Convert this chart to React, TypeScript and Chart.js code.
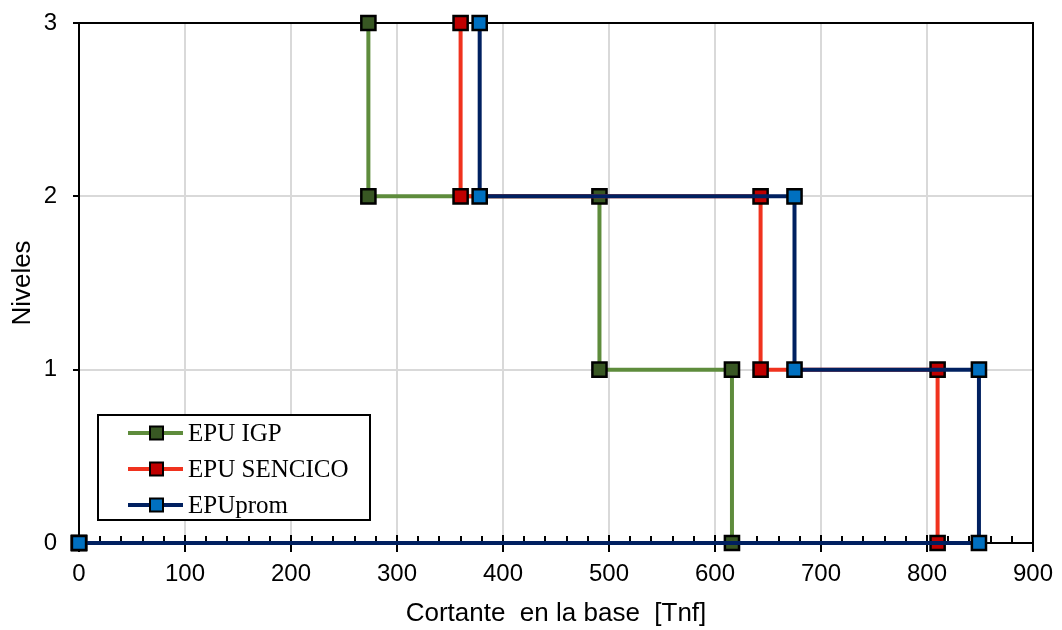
import React, { useEffect, useRef } from "react";
import { Chart, registerables } from "chart.js";

Chart.register(...registerables);

// ---- data ----
const levels = [3, 2, 2, 1, 1, 0, 0];
const igpShear = [273, 273, 491, 491, 616, 616, 0];
const sencicoShear = [360, 360, 643, 643, 810, 810, 0];
const promShear = [378, 378, 675, 675, 849, 849, 0];
const seriesNames = ["EPU IGP", "EPU SENCICO", "EPUprom"];
const xTickValues = [0, 100, 200, 300, 400, 500, 600, 700, 800, 900];
const yTickValues = [0, 1, 2, 3];
const xTitle = "Cortante  en la base  [Tnf]";
const yTitle = "Niveles";

const lineColors = ["#5e8c3c", "#f0321e", "#002060"];
const markerColors = ["#385723", "#c00000", "#0070c0"];

const sans = "'Liberation Sans', Arial, sans-serif";
const serif = "'Liberation Serif', 'Times New Roman', serif";

const toPoints = (xs: number[]) => xs.map((x, i) => ({ x, y: levels[i] }));

const framePlugin = {
  id: "frame",
  beforeDatasetsDraw(chart: any) {
    const { ctx, chartArea, scales } = chart;
    const { left, right, top, bottom } = chartArea;
    const xs = scales.x;
    ctx.save();
    ctx.strokeStyle = "#000";
    ctx.lineWidth = 2;
    ctx.beginPath();
    ctx.moveTo(left, top);
    ctx.lineTo(right, top);
    ctx.lineTo(right, bottom);
    ctx.stroke();
    ctx.beginPath();
    for (let v = 0; v <= 900; v += 20) {
      const px = Math.round(xs.getPixelForValue(v));
      const len = v % 100 === 0 ? 8 : 7;
      ctx.moveTo(px, bottom);
      ctx.lineTo(px, bottom - len);
    }
    ctx.stroke();
    ctx.restore();
  },
  afterDraw(chart: any) {
    const { ctx } = chart;
    const bx = 98, by = 415, bw = 272, bh = 105;
    ctx.save();
    ctx.fillStyle = "#fff";
    ctx.fillRect(bx, by, bw, bh);
    ctx.strokeStyle = "#000";
    ctx.lineWidth = 2;
    ctx.strokeRect(bx, by, bw, bh);
    const rows = [433, 469, 505];
    seriesNames.forEach((name, i) => {
      const y = rows[i];
      ctx.strokeStyle = lineColors[i];
      ctx.lineWidth = 4;
      ctx.beginPath();
      ctx.moveTo(128, y);
      ctx.lineTo(183, y);
      ctx.stroke();
      ctx.fillStyle = markerColors[i];
      ctx.fillRect(150, y - 6.5, 13, 13);
      ctx.strokeStyle = "#000";
      ctx.lineWidth = 2;
      ctx.strokeRect(150, y - 6.5, 13, 13);
      ctx.fillStyle = "#000";
      ctx.font = `25px ${serif}`;
      ctx.textBaseline = "middle";
      ctx.textAlign = "left";
      ctx.fillText(name, 188, y + 1);
    });
    ctx.restore();
  },
};

export default function App() {
  const canvasRef = useRef<HTMLCanvasElement | null>(null);

  useEffect(() => {
    if (!canvasRef.current) return;
    const series = [igpShear, sencicoShear, promShear];
    const chart = new Chart(canvasRef.current, {
      type: "scatter",
      data: {
        datasets: series.map((xs, i) => ({
          label: seriesNames[i],
          data: toPoints(xs),
          showLine: true,
          borderColor: lineColors[i],
          borderWidth: 4,
          backgroundColor: markerColors[i],
          pointStyle: "rect",
          pointRadius: 10,
          pointHoverRadius: 10,
          pointBorderColor: "#000",
          pointBorderWidth: 2.5,
          pointBackgroundColor: markerColors[i],
          order: 3 - i,
          clip: false,
        })),
      },
      options: {
        animation: false,
        responsive: false,
        devicePixelRatio: 1,
        events: [],
        layout: { padding: { top: 23, right: 29, left: 0, bottom: 0 } },
        plugins: {
          legend: { display: false },
          tooltip: { enabled: false },
        },
        scales: {
          x: {
            type: "linear",
            min: 0,
            max: 900,
            afterFit: (s: any) => {
              s.height = 87;
              s.paddingLeft = 0;
              s.paddingRight = 0;
            },
            afterBuildTicks: (s: any) => {
              s.ticks = xTickValues.map((v) => ({ value: v }));
            },
            ticks: {
              color: "#000",
              font: { family: sans, size: 24 },
              padding: 8,
              maxRotation: 0,
            },
            grid: {
              color: "#d9d9d9",
              lineWidth: 2,
              tickColor: "#000",
              tickLength: 9,
              tickWidth: 2,
            },
            border: { color: "#000", width: 2 },
            title: {
              display: true,
              text: xTitle,
              color: "#000",
              font: { family: sans, size: 26 },
              padding: { top: 0, bottom: 1 },
            },
          },
          y: {
            type: "linear",
            min: 0,
            max: 3,
            afterFit: (s: any) => {
              s.width = 79;
              s.paddingTop = 0;
              s.paddingBottom = 0;
            },
            afterBuildTicks: (s: any) => {
              s.ticks = yTickValues.map((v) => ({ value: v }));
            },
            ticks: {
              color: "#000",
              font: { family: sans, size: 24 },
              padding: 16,
            },
            grid: {
              color: "#d9d9d9",
              lineWidth: 2,
              tickColor: "#000",
              tickLength: 6,
              tickWidth: 2,
            },
            border: { color: "#000", width: 2 },
            title: {
              display: true,
              text: yTitle,
              color: "#000",
              font: { family: sans, size: 26 },
              padding: { top: 7, bottom: 0 },
            },
          },
        },
      },
      plugins: [framePlugin],
    } as any);
    return () => chart.destroy();
  }, []);

  return (
    <div style={{ position: "absolute", left: 0, top: 0, width: 1062, height: 630, background: "#fff" }}>
      <canvas ref={canvasRef} width={1062} height={630} style={{ display: "block" }} />
    </div>
  );
}
